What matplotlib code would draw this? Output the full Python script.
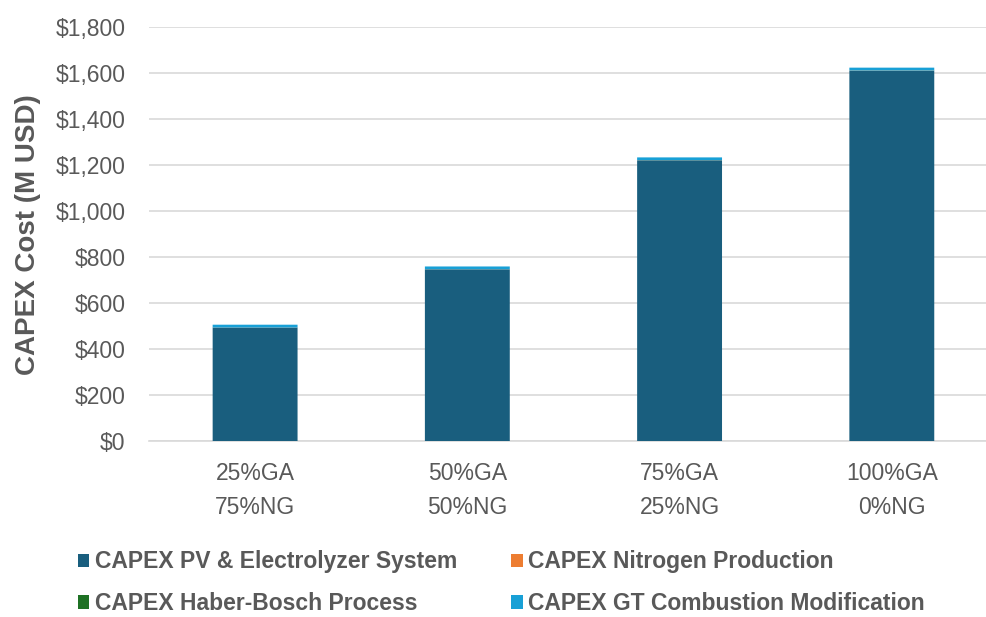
import numpy as np
import matplotlib.pyplot as plt
from matplotlib.ticker import FuncFormatter

plt.rcParams['font.family'] = ['Liberation Sans', 'DejaVu Sans']

# scenarios (green ammonia share / natural gas share)
scenarios = ['25%GA\n75%NG', '50%GA\n50%NG', '75%GA\n25%NG', '100%GA\n0%NG']

# CAPEX in million USD
pv_electrolyzer = [494, 747, 1221, 1611]
nitrogen_prod = [0.2, 0.3, 0.4, 0.5]
haber_bosch = [0.1, 0.2, 0.3, 0.4]
gt_modification = [12, 12, 12, 12]

series = [
    ('CAPEX PV & Electrolyzer System', pv_electrolyzer, '#195e7e'),
    ('CAPEX Nitrogen Production', nitrogen_prod, '#ed7d31'),
    ('CAPEX Haber-Bosch Process', haber_bosch, '#1e7124'),
    ('CAPEX GT Combustion Modification', gt_modification, '#18a0d6'),
]

fig = plt.figure(figsize=(9.86, 6.17), dpi=100)
# plot area runs slightly past the right edge of the figure
ax = fig.add_axes([0.1511, 0.285, 0.861, 0.671])

x = np.arange(len(scenarios))
bottom = np.zeros(len(scenarios))
handles = {}
for name, vals, col in series:
    b = ax.bar(x, vals, 0.4, bottom=bottom, color=col, label=name, zorder=3,
               linewidth=0)
    for p in b:
        p.set_snap(False)
    bottom += np.array(vals)
    handles[name] = b

grey = '#595959'
ax.set_xlim(-0.5, len(scenarios) - 0.5)
ax.set_ylim(0, 1800)
ax.set_yticks(np.arange(0, 1801, 200))
ax.yaxis.set_major_formatter(FuncFormatter(lambda v, p: '${:,.0f}'.format(v)))
ax.set_xticks(x)
ax.set_xticklabels(scenarios, linespacing=1.62)
ax.tick_params(axis='both', length=0, labelsize=16.5, colors=grey)
ax.tick_params(axis='x', pad=15)
ax.tick_params(axis='y', pad=17)
ax.grid(axis='y', color='#d9d9d9', linewidth=1.2, zorder=0)
for s in ['top', 'right', 'left']:
    ax.spines[s].set_visible(False)
ax.spines['bottom'].set_color('#d9d9d9')
ax.spines['bottom'].set_linewidth(1.2)

ax.set_ylabel('CAPEX Cost (M USD)', fontsize=20, fontweight='bold', color=grey, labelpad=10)

# legend filled row by row: column-major order for ncol=2
order = ['CAPEX PV & Electrolyzer System', 'CAPEX Haber-Bosch Process',
         'CAPEX Nitrogen Production', 'CAPEX GT Combustion Modification']
leg = fig.legend([handles[k] for k in order], order, loc='upper left',
                 bbox_to_anchor=(0.079, 0.108), borderaxespad=0, borderpad=0,
                 ncol=2, frameon=False, handlelength=0.5, handleheight=0.5,
                 handletextpad=0.25, columnspacing=2.35, labelspacing=0.82,
                 prop={'weight': 'bold', 'size': 16.5})
for t in leg.get_texts():
    t.set_color(grey)

fig.savefig('out.png', dpi=100)
